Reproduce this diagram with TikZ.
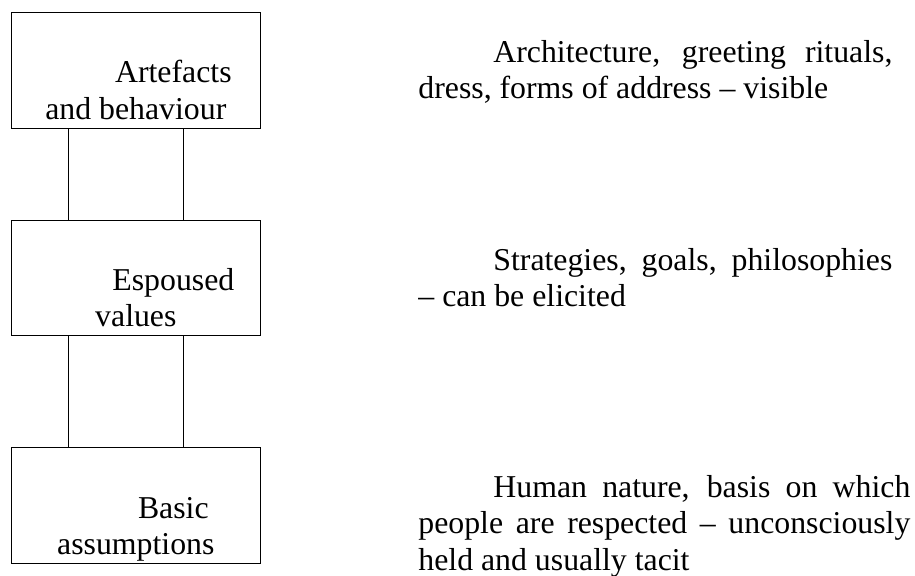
\documentclass[tikz,border=0pt]{standalone}
\usepackage{fontspec}
\setmainfont{Liberation Serif}
\usetikzlibrary{positioning}

\begin{document}
\begin{tikzpicture}[
  x=0.5pt, y=-0.5pt,
  level/.style={draw, line width=0.5pt, minimum width=124.85pt,
                minimum height=57.8pt, inner sep=0pt},
  leveltext/.style={anchor=base, align=center, inner sep=0pt,
                    font=\fontsize{15.9pt}{18.3pt}\selectfont},
  note/.style={anchor=base west, align=justify, inner sep=0pt,
               text width=237pt, font=\fontsize{15.9pt}{18pt}\selectfont},
  link/.style={line width=0.5pt},
]
\useasboundingbox (0,0) rectangle (915,576);

% === Levels of culture ===
\node[level] (art) at (135.85, 70.5) {};
\node[level] (esp) at (135.85, 278.2) {};
\node[level] (bas) at (135.85, 505.8) {};

\node[leveltext] (arttext) at ([yshift=4.75pt]art.south)
  {\hspace*{37.5pt}Artefacts\\and behaviour};
\node[leveltext] (esptext) at ([yshift=4.75pt]esp.south)
  {\hspace*{37.5pt}Espoused\\values};
\node[leveltext] (bastext) at ([yshift=4.75pt]bas.south)
  {\hspace*{37.5pt}Basic\\assumptions};

% === Connecting lines ===
\coordinate (lineL) at (68.3, 0);
\coordinate (lineR) at (183.7, 0);
\foreach \a/\b in {art/esp, esp/bas}
  \foreach \c in {lineL, lineR}
    \draw[link] (\a.south -| \c) -- (\b.north -| \c);

% === Descriptions ===
\node[note] (artnote) at (418, 63)
  {\noindent\hspace*{37.5pt}Architecture, greeting rituals,\linebreak
   dress, forms of address – visible};
\node[note] (espnote) at (418, 271)
  {\noindent\hspace*{37.5pt}Strategies, goals, philosophies\linebreak
   – can be elicited};
\node[note, text width=246pt] (basnote) at (418, 498)
  {\noindent\hspace*{37.5pt}Human nature, basis on which\linebreak
   people are respected – unconsciously\linebreak
   held and usually tacit};

\end{tikzpicture}
\end{document}
